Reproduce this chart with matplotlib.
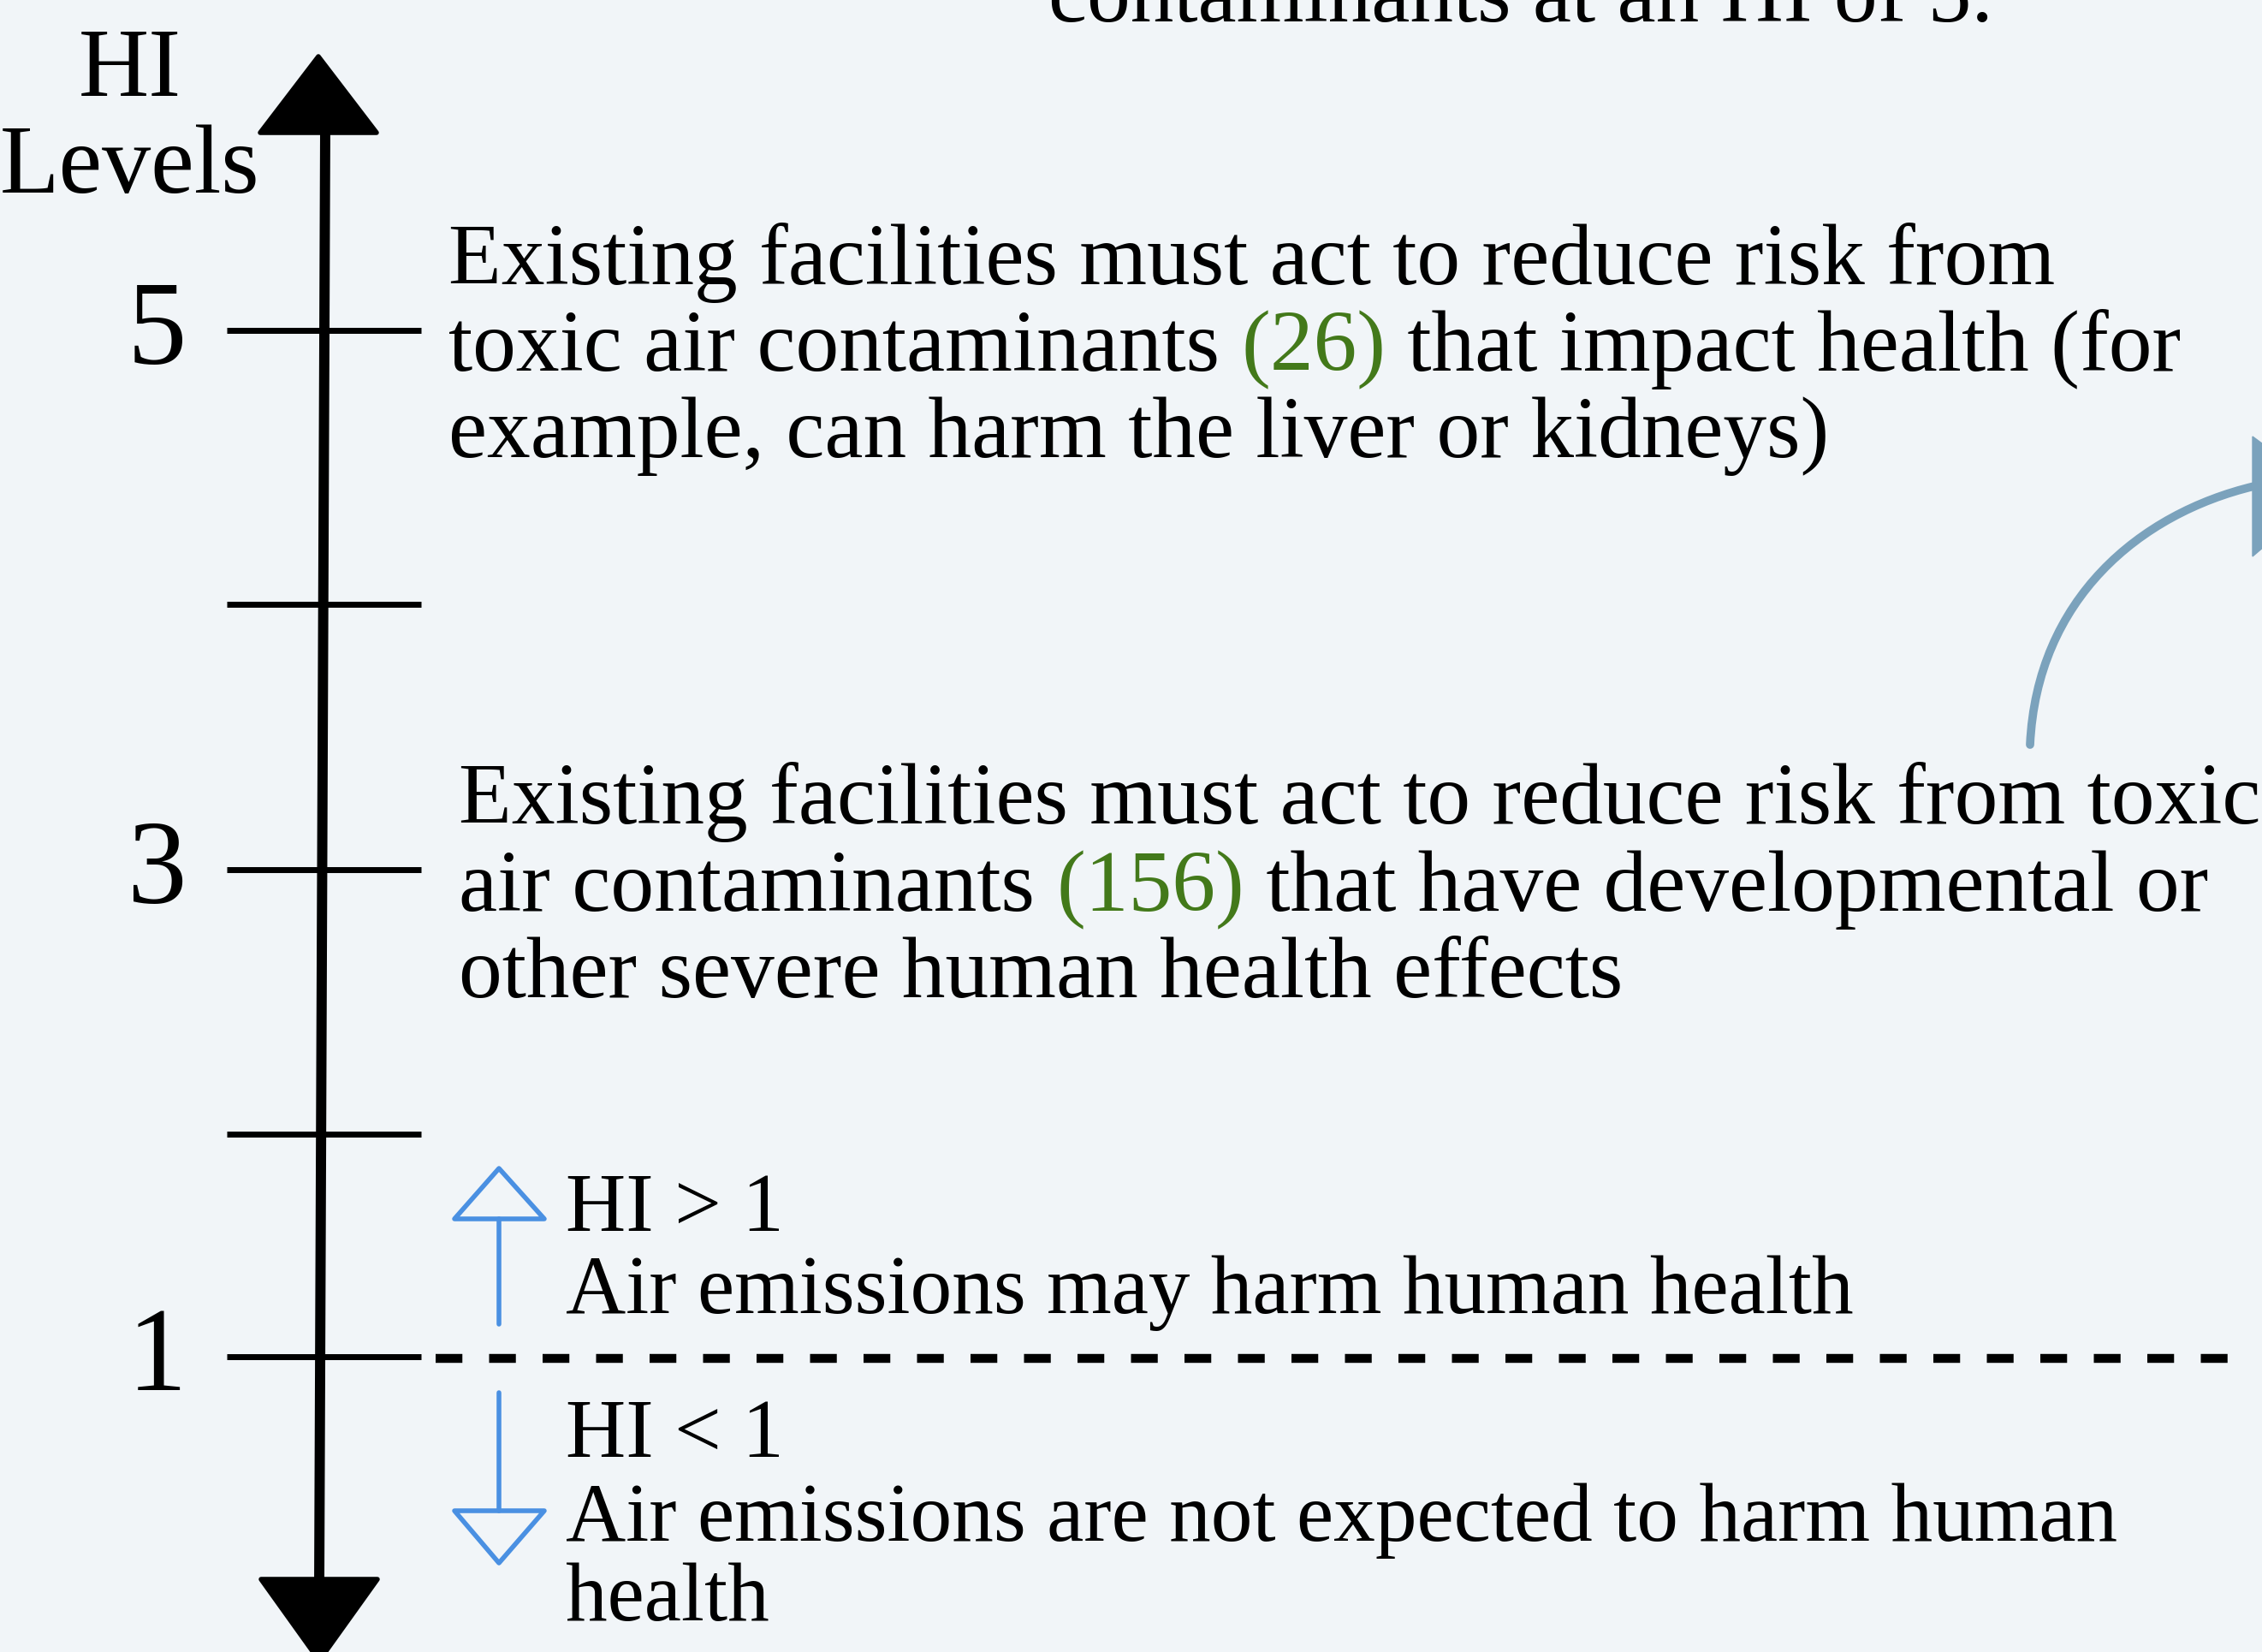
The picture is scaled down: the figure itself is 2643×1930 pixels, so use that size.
import matplotlib
matplotlib.use('Agg')
import matplotlib.pyplot as plt
from matplotlib.patches import Polygon, PathPatch
from matplotlib.path import Path

# HI scale on the axis
hi_levels = [5, 4, 3, 2, 1]
level_labels = ['5', '', '3', '', '1']
# number of toxic air contaminants for each action level
contaminant_counts = ['26', '156']

bg = '#F1F5F8'
green = '#43791A'
blue = '#4A90E2'
steel = '#7BA2BC'

top_note = 'contaminants at an HI of 5.'
block_hi5 = [
    [('Existing facilities must act to reduce risk from', 'k')],
    [('toxic air contaminants ', 'k'), ('(' + contaminant_counts[0] + ')', green),
     (' that impact health (for', 'k')],
    [('example, can harm the liver or kidneys)', 'k')],
]
block_hi3 = [
    [('Existing facilities must act to reduce risk from toxic', 'k')],
    [('air contaminants ', 'k'), ('(' + contaminant_counts[1] + ')', green),
     (' that have developmental or', 'k')],
    [('other severe human health effects', 'k')],
]
block_above = ['HI > 1', 'Air emissions may harm human health']
block_below = ['HI < 1', 'Air emissions are not expected to harm human', 'health']

W, H = 2643, 1930
fig = plt.figure(figsize=(W / 100, H / 100), dpi=100)
fig.patch.set_facecolor(bg)
ax = fig.add_axes([0, 0, 1, 1])
ax.set_xlim(0, W)
ax.set_ylim(H, 0)
ax.axis('off')
ax.set_facecolor(bg)

FONT = 'Liberation Serif'
FS = 73
FS_SMALL = 70

def draw_line(x, y, pieces, size=FS):
    t = ax.text(x, y, pieces[0][0], color=pieces[0][1], fontsize=size,
                family=FONT, va='baseline', ha='left')
    for s, c in pieces[1:]:
        t = ax.annotate(s, xy=(1, 0), xycoords=t, color=c, fontsize=size,
                        family=FONT, va='bottom', ha='left')
    return t

# main vertical axis with arrow heads
ax.plot([380, 373], [150, 1850], color='k', lw=8.6, solid_capstyle='butt')
ax.add_patch(Polygon([[372, 66], [304, 155], [440, 155]], closed=True,
                     fc='k', ec='k', lw=4, joinstyle='round'))
ax.add_patch(Polygon([[305, 1845], [441, 1845], [373, 1940]], closed=True,
                     fc='k', ec='k', lw=4, joinstyle='round'))

# ticks and labels
tick_y = [386, 706, 1016, 1325, 1585]
for lev, lab, y in zip(hi_levels, level_labels, tick_y):
    ax.plot([265, 492], [y, y], color='k', lw=5, solid_capstyle='butt')
    if lab:
        ax.text(218, y + 6, lab, fontsize=100, family=FONT, ha='right',
                va='center')

ax.text(152, 112, 'HI', fontsize=82, family=FONT, ha='center', va='baseline')
ax.text(152, 225, 'Levels', fontsize=82, family=FONT, ha='center', va='baseline')

# HI = 1 threshold
ax.plot([509, 2612], [1587, 1587], color='k', lw=7.5, dashes=(3.0, 3.0),
        solid_capstyle='butt', dash_capstyle='butt')

# text blocks
ax.text(1225, 25, top_note, fontsize=FS, family=FONT, va='baseline')
for i, y in enumerate([332, 433, 534]):
    draw_line(524, y, block_hi5[i])
for i, y in enumerate([962, 1064, 1165]):
    draw_line(536, y, block_hi3[i])
for s, y in zip(block_above, [1438, 1534]):
    ax.text(661, y, s, fontsize=FS_SMALL, family=FONT, va='baseline')
for s, y in zip(block_below, [1702, 1800, 1893]):
    ax.text(661, y, s, fontsize=FS_SMALL, family=FONT, va='baseline')

# hollow blue arrows
ax.plot([583, 583], [1424, 1547], color=blue, lw=4, solid_capstyle='round')
ax.add_patch(Polygon([[583, 1365], [531, 1424], [636, 1424]], closed=True,
                     fc=bg, ec=blue, lw=4, joinstyle='round'))
ax.plot([583, 583], [1627, 1765], color=blue, lw=4, solid_capstyle='round')
ax.add_patch(Polygon([[531, 1765], [636, 1765], [583, 1826]], closed=True,
                     fc=bg, ec=blue, lw=4, joinstyle='round'))

# curved pointer arrow at right
curve = Path([(2372, 870), (2380, 700), (2500, 600), (2634, 568)],
             [Path.MOVETO, Path.CURVE4, Path.CURVE4, Path.CURVE4])
ax.add_patch(PathPatch(curve, fc='none', ec=steel, lw=7, capstyle='round'))
ax.add_patch(Polygon([[2632, 510], [2632, 650], [2720, 575]], closed=True,
                     fc=steel, ec=steel, lw=1))

fig.savefig('out.png', dpi=100, facecolor=bg)
